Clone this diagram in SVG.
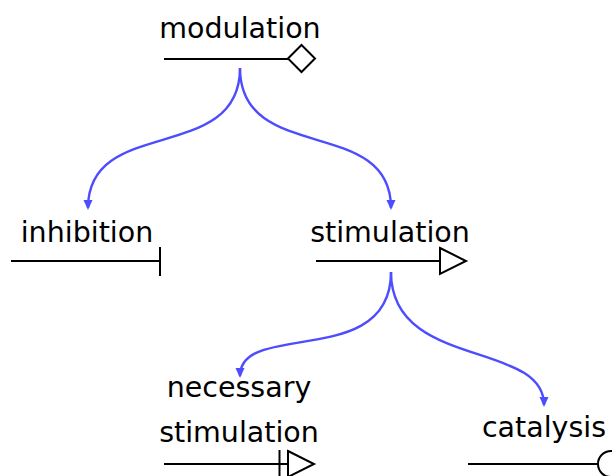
<svg xmlns="http://www.w3.org/2000/svg" width="612" height="476" viewBox="0 0 612 476">
<defs>
<style>
.lbl{font-family:"DejaVu Sans","Liberation Sans",sans-serif;font-size:28.5px;fill:#000;text-anchor:middle}
.ln{stroke:#000;stroke-width:2;fill:none}
.hd{stroke:#000;stroke-width:2;fill:#fff}
.cn{stroke:#4d4dff;stroke-width:2.4;fill:none;marker-end:url(#ah)}
</style>
<marker id="ah" viewBox="0 0 10 10" refX="8" refY="5" markerWidth="4.2" markerHeight="4.2" orient="auto" markerUnits="strokeWidth">
<path d="M0,0.5 L10,5 L0,9.5 Z" fill="#4d4dff"/>
</marker>
</defs>
<g id="modulation">
<text class="lbl" x="240" y="38">modulation</text>
<line class="ln" x1="164" y1="59" x2="289" y2="59"/>
<polygon class="hd" points="288,58.5 301.5,45 315,58.5 301.5,72"/>
</g>
<g id="inhibition">
<text class="lbl" x="87" y="242">inhibition</text>
<line class="ln" x1="11" y1="261" x2="160" y2="261"/>
<line class="ln" x1="160" y1="247" x2="160" y2="276"/>
</g>
<g id="stimulation">
<text class="lbl" x="390" y="242">stimulation</text>
<line class="ln" x1="316" y1="261" x2="440" y2="261"/>
<polygon class="hd" points="440,248 466,261 440,274"/>
</g>
<g id="necessary-stimulation">
<text class="lbl" x="239" y="397">necessary</text>
<text class="lbl" x="239" y="442">stimulation</text>
<line class="ln" x1="164" y1="464" x2="288" y2="464"/>
<line class="ln" x1="279.5" y1="450" x2="279.5" y2="478"/>
<polygon class="hd" points="288,451 314,464 288,477"/>
</g>
<g id="catalysis">
<text class="lbl" x="544" y="437">catalysis</text>
<line class="ln" x1="468" y1="464" x2="598" y2="464"/>
<circle class="hd" cx="611" cy="464" r="13"/>
</g>
<g id="connectors">
<path class="cn" d="M240,68 C240,165 88,115 88,208"/>
<path class="cn" d="M240,68 C240,165 391,115 391,208"/>
<path class="cn" d="M391,272 C391,370 240,320 240,376"/>
<path class="cn" d="M391,272 C391,370 544,340 544,405"/>
</g>
</svg>
